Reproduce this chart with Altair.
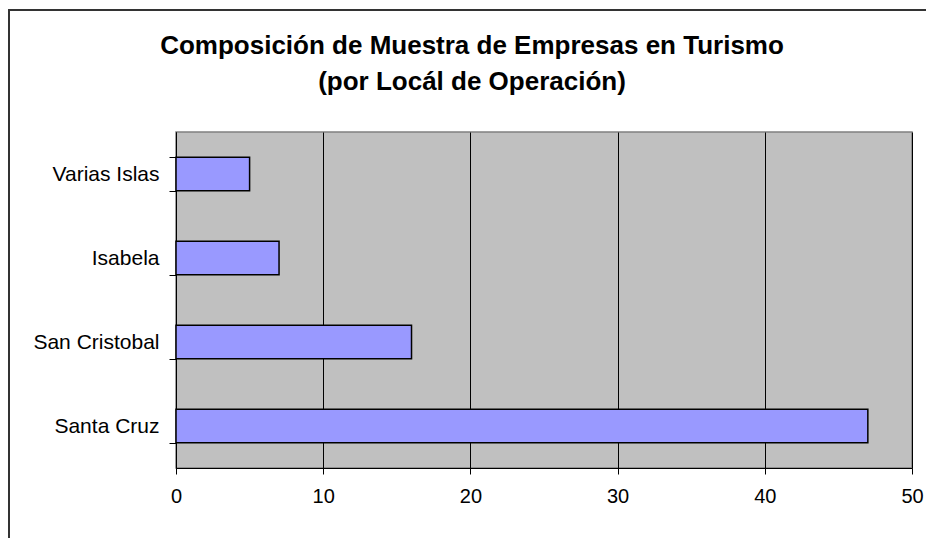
import altair as alt
import pandas as pd

categories = ["Varias Islas", "Isabela", "San Cristobal", "Santa Cruz"]
values = [5, 7, 16, 47]
x_ticks = [0, 10, 20, 30, 40, 50]

df = pd.DataFrame({"lugar": categories, "n": values})

W, H = 736, 336

bars = alt.Chart(df).mark_bar(
    color="#9999FF", stroke="#000000", strokeWidth=1.5
).encode(
    x=alt.X("n:Q", scale=alt.Scale(domain=[0, 50], nice=False),
            axis=alt.Axis(values=x_ticks, title=None, grid=True, gridColor="#000000",
                          gridWidth=1, domainColor="#000000", tickColor="#000000",
                          tickSize=6, labelFontSize=20, labelPadding=12,
                          labelFlush=False,
                          labelColor="#000000", labelFont="Liberation Sans")),
    y=alt.Y("lugar:N", sort=categories,
            scale=alt.Scale(paddingInner=0.6, paddingOuter=0.3),
            axis=alt.Axis(title=None, tickBand="extent", domainColor="#000000",
                          tickColor="#000000", tickSize=7, labelFontSize=21,
                          labelPadding=10, labelColor="#000000",
                          labelFont="Liberation Sans", grid=False)),
)

frame = alt.Chart(df).mark_rect(
    fill="transparent", stroke="#333333", strokeWidth=1.5
).encode(
    x=alt.value(-167), x2=alt.value(W + 200),
    y=alt.value(-122), y2=alt.value(H + 300),
)

chart = alt.layer(frame, bars).properties(
    width=W, height=H,
    padding={"left": 168, "top": 124, "right": 14, "bottom": 70},
    autosize=alt.AutoSizeParams(type="none"),
    background="#FFFFFF",
    title=alt.TitleParams(
        text=["Composición de Muestra de Empresas en Turismo", "(por Locál de Operación)"],
        font="Liberation Sans", fontSize=26, fontWeight="bold", color="#000000",
        anchor="middle", dx=-72, offset=-86, lineHeight=36,
    ),
).configure_view(
    fill="#C0C0C0", stroke="#808080", strokeWidth=1.5
)

chart.save("out.html", embed_options={"renderer": "svg", "actions": False})
